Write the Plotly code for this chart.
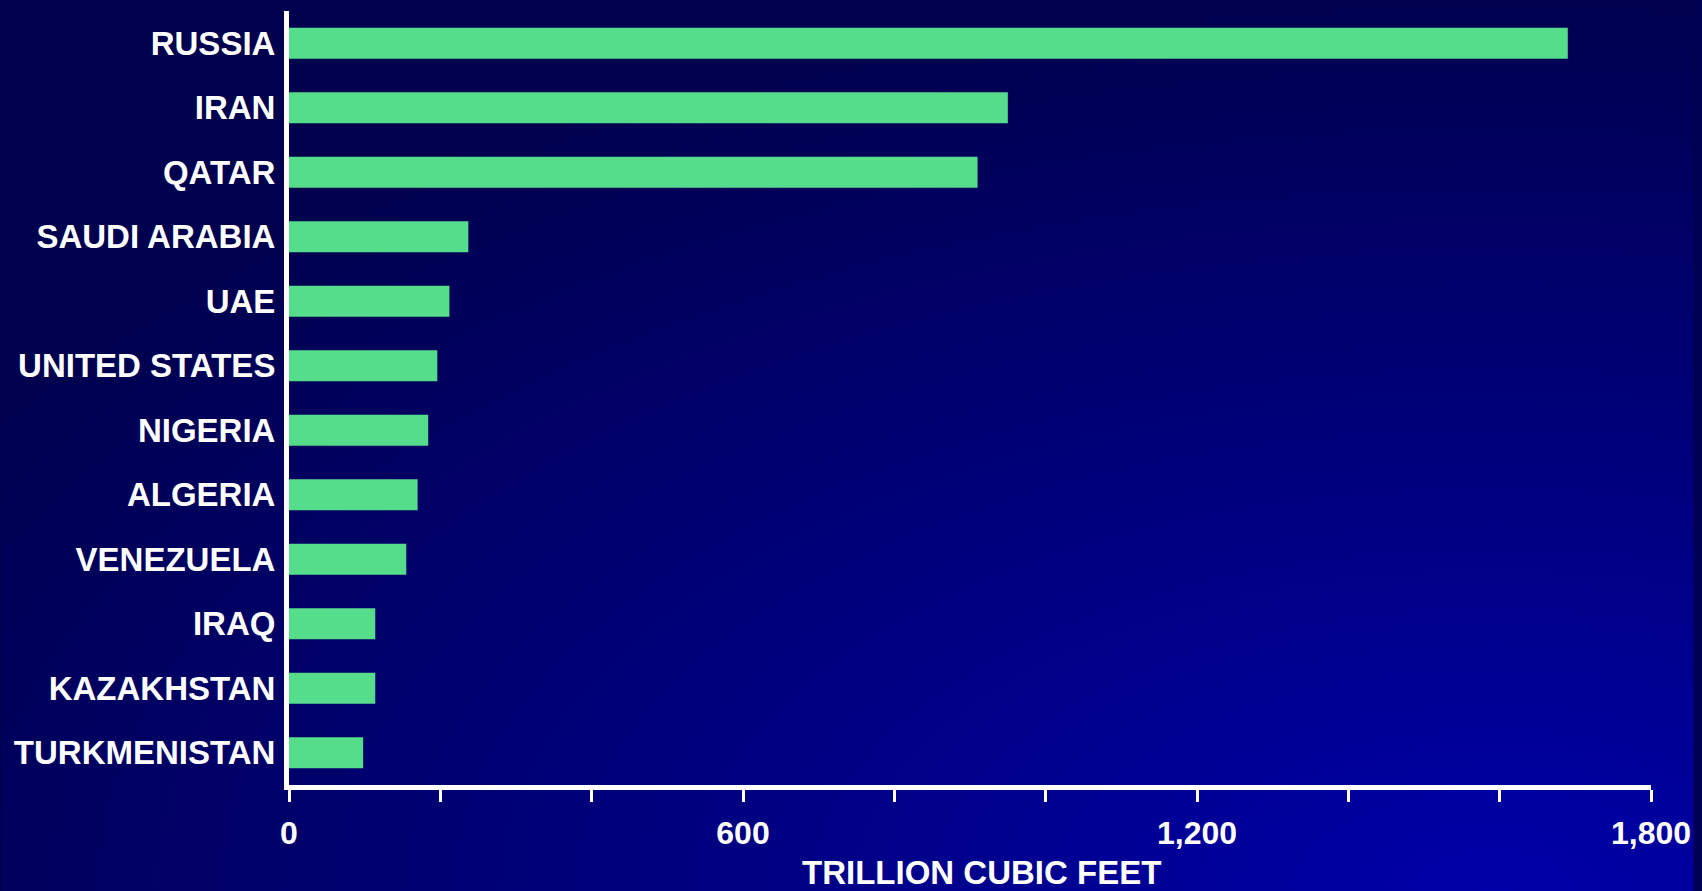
import base64
import plotly.graph_objects as go

countries = ["RUSSIA", "IRAN", "QATAR", "SAUDI ARABIA", "UAE", "UNITED STATES",
             "NIGERIA", "ALGERIA", "VENEZUELA", "IRAQ", "KAZAKHSTAN", "TURKMENISTAN"]
reserves = [1690, 950, 910, 237, 212, 196, 184, 170, 155, 114, 114, 98]
tick_values = [0, 200, 400, 600, 800, 1000, 1200, 1400, 1600, 1800]
tick_labels = ["0", "", "", "600", "", "", "1,200", "", "", "1,800"]
axis_title = "TRILLION CUBIC FEET"

W, H = 1702, 891
ML, MR, MT, MB = 289, 43, 11, 106
FONT = "Liberation Sans, Arial, Helvetica, sans-serif"

svg = (
    f"<svg xmlns='http://www.w3.org/2000/svg' width='{W}' height='{H}' viewBox='0 0 {W} {H}' "
    "preserveAspectRatio='none'><defs>"
    "<radialGradient id='g' cx='0' cy='0' r='1' gradientUnits='userSpaceOnUse' "
    "gradientTransform='translate(1500 891) scale(1800 900)'>"
    "<stop offset='0' stop-color='#0000a8'/><stop offset='1' stop-color='#00004e'/>"
    "</radialGradient></defs>"
    f"<rect width='{W}' height='{H}' fill='url(#g)'/></svg>"
)
bg_src = "data:image/svg+xml;base64," + base64.b64encode(svg.encode()).decode()

pw = W - ML - MR
ph = H - MT - MB

fig = go.Figure(go.Bar(
    x=reserves, y=countries, orientation="h",
    marker=dict(color="#56DD8B", line=dict(width=0)),
    hoverinfo="x+y",
))

fig.update_layout(
    width=W, height=H,
    margin=dict(l=ML, r=MR, t=MT, b=MB, pad=0),
    paper_bgcolor="#000050",
    plot_bgcolor="rgba(0,0,0,0)",
    bargap=0.52,
    showlegend=False,
    font=dict(family=FONT, color="white"),
    images=[dict(
        source=bg_src, xref="paper", yref="paper",
        x=-ML / pw, y=1 + MT / ph, sizex=W / pw, sizey=H / ph,
        xanchor="left", yanchor="top", sizing="stretch", layer="below",
    )],
    annotations=[dict(
        text=f"<b>{axis_title}</b>", xref="paper", yref="paper",
        x=(985.5 - ML) / pw, y=-(872 - (H - MB)) / ph,
        xanchor="center", yanchor="middle",
        showarrow=False, font=dict(family=FONT, size=33, color="white"),
    )],
    xaxis=dict(
        range=[0, 1800], tickmode="array", tickvals=tick_values, ticktext=tick_labels,
        showgrid=False, zeroline=False,
        showline=True, linecolor="white", linewidth=5,
        ticks="outside", ticklen=12, tickwidth=3, tickcolor="white",
        ticklabelstandoff=4,
        tickfont=dict(family=FONT, size=32, color="white", weight="bold"),
        fixedrange=True,
    ),
    yaxis=dict(
        categoryorder="array", categoryarray=countries[::-1],
        range=[-0.5, len(countries) - 0.5],
        showgrid=False, zeroline=False,
        showline=True, linecolor="white", linewidth=5,
        ticks="", ticklabelstandoff=2,
        tickfont=dict(family=FONT, size=33, color="white", weight="bold"),
        fixedrange=True,
    ),
)

fig.write_html(
    "out.html",
    config={"displayModeBar": False},
    post_script="document.body.style.margin='0';document.body.style.overflow='hidden';",
)
